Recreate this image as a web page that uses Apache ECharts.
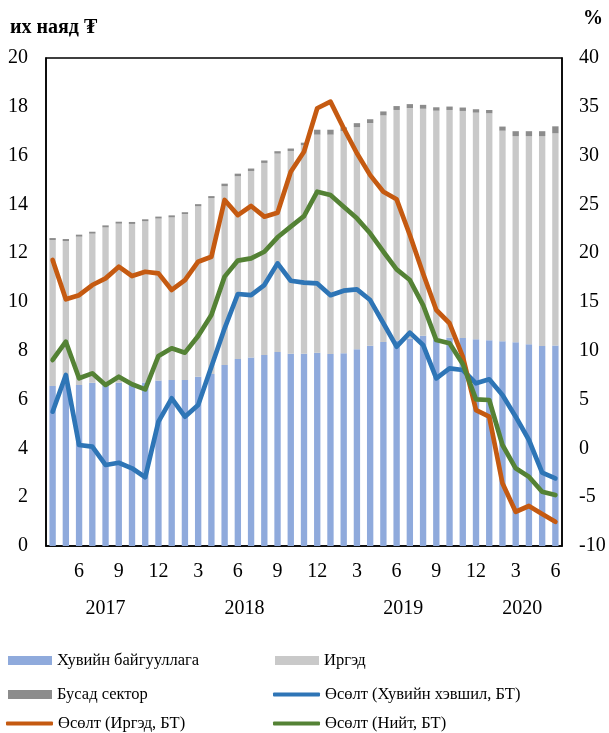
<!DOCTYPE html>
<html>
<head>
<meta charset="utf-8">
<script src="https://cdn.jsdelivr.net/npm/echarts@6/dist/echarts.min.js"></script>
<style>
  html, body { margin: 0; padding: 0; background: #fff; }
  #chart { width: 609px; height: 733px; }
</style>
</head>
<body>
<div id="chart"></div>
<script>
// сар бүр, 2017.04 - 2020.06
var months = [
  '2017-4', '2017-5', '2017-6', '2017-7', '2017-8', '2017-9', '2017-10', '2017-11', '2017-12',
  '2018-1', '2018-2', '2018-3', '2018-4', '2018-5', '2018-6', '2018-7', '2018-8', '2018-9',
  '2018-10', '2018-11', '2018-12',
  '2019-1', '2019-2', '2019-3', '2019-4', '2019-5', '2019-6', '2019-7', '2019-8', '2019-9',
  '2019-10', '2019-11', '2019-12',
  '2020-1', '2020-2', '2020-3', '2020-4', '2020-5', '2020-6'
];
var years = ['2017', '2018', '2019', '2020'];

// их наяд төгрөг
var privateLoans = [
  6.56, 6.6, 6.6, 6.69, 6.65, 6.69, 6.65, 6.7, 6.78, 6.8,
  6.8, 6.94, 7.05, 7.42, 7.66, 7.73, 7.83, 7.95, 7.88, 7.88,
  7.92, 7.87, 7.9, 8.06, 8.21, 8.36, 8.42, 8.5, 8.62, 8.45,
  8.55, 8.52, 8.47, 8.43, 8.39, 8.35, 8.27, 8.2, 8.22
];
var householdLoans = [
  5.98, 5.9, 6.08, 6.11, 6.41, 6.52, 6.55, 6.61, 6.64, 6.67,
  6.8, 6.99, 7.21, 7.33, 7.5, 7.64, 7.87, 8.13, 8.31, 8.55,
  8.94, 8.99, 9.1, 9.11, 9.12, 9.29, 9.45, 9.45, 9.3, 9.39,
  9.32, 9.31, 9.29, 9.3, 8.63, 8.45, 8.53, 8.6, 8.69
];
var otherLoans = [
  0.08, 0.08, 0.08, 0.08, 0.08, 0.08, 0.08, 0.08, 0.08, 0.08,
  0.08, 0.08, 0.08, 0.1, 0.1, 0.1, 0.1, 0.1, 0.1, 0.1,
  0.2, 0.2, 0.16, 0.16, 0.16, 0.16, 0.16, 0.16, 0.16, 0.14,
  0.14, 0.14, 0.14, 0.14, 0.17, 0.2, 0.2, 0.2, 0.29
];

// өсөлт, хувь
var growthPrivate = [
  3.76, 7.52, 0.35, 0.18, -1.7, -1.47, -2.04, -2.96, 2.74, 5.13,
  3.25, 4.45, 8.37, 12.3, 15.82, 15.7, 16.74, 18.96, 17.18, 16.98,
  16.9, 15.7, 16.16, 16.3, 15.2, 12.82, 10.42, 11.86, 10.6, 7.18,
  8.2, 8.03, 6.67, 7.08, 5.47, 3.25, 0.86, -2.49, -3.07
];
var growthHousehold = [
  19.3, 15.27, 15.7, 16.74, 17.42, 18.62, 17.66, 18.1, 17.93, 16.23,
  17.25, 19.13, 19.64, 25.45, 23.9, 24.84, 23.74, 24.15, 28.35, 30.4,
  34.85, 35.53, 32.8, 30.24, 28.0, 26.3, 25.52, 21.86, 17.93, 14.18,
  12.82, 9.4, 3.93, 3.25, -3.58, -6.49, -5.9, -6.72, -7.51
];
var growthTotal = [
  9.06, 10.93, 7.18, 7.69, 6.5, 7.35, 6.57, 6.05, 9.47, 10.26,
  9.81, 11.52, 13.67, 17.6, 19.24, 19.47, 20.15, 21.63, 22.72, 23.8,
  26.3, 25.96, 24.76, 23.57, 22.04, 20.15, 18.35, 17.25, 14.69, 11.1,
  10.77, 8.65, 5.03, 4.96, 0.35, -2.04, -2.9, -4.44, -4.78
];

var names = [
  'Хувийн байгууллага', 'Иргэд', 'Бусад сектор',
  'Өсөлт (Хувийн хэвшил, БТ)', 'Өсөлт (Иргэд, БТ)', 'Өсөлт (Нийт, БТ)'
];

var font = 'Liberation Serif, Times New Roman, serif';

var makeBar = function (name, data, color) {
  return {
    name: name,
    type: 'bar',
    stack: 'loans',
    barWidth: '48%',
    itemStyle: { color: color },
    data: data
  };
};

var makeLine = function (name, data, color) {
  return {
    name: name,
    type: 'line',
    yAxisIndex: 1,
    symbol: 'none',
    lineStyle: { color: color, width: 4.7, cap: 'round', join: 'round' },
    itemStyle: { color: color },
    data: data
  };
};

var makeLegend = function (name, left, top, isLine) {
  return {
    data: [{ name: name, icon: isLine ? 'roundRect' : 'rect' }],
    left: left,
    top: top,
    padding: 0,
    itemWidth: isLine ? 47 : 44,
    itemHeight: isLine ? 4 : 9,
    selectedMode: false,
    textStyle: { fontFamily: font, fontSize: 16.5, color: '#000' }
  };
};

var option = {
  animation: false,
  backgroundColor: '#fff',
  textStyle: { fontFamily: font },
  grid: {
    left: 46, right: 47, top: 58, bottom: 187,
    show: true, borderColor: '#000', borderWidth: 1.5
  },
  legend: [
    makeLegend(names[0], 8, 652, false),
    makeLegend(names[1], 275, 652, false),
    makeLegend(names[2], 8, 686, false),
    makeLegend(names[3], 273, 686, true),
    makeLegend(names[4], 6, 715, true),
    makeLegend(names[5], 273, 715, true)
  ],
  xAxis: {
    type: 'category',
    data: months,
    axisTick: { show: false },
    axisLine: { lineStyle: { color: '#000', width: 1.5 } },
    axisLabel: {
      interval: function (idx) { return idx % 3 === 2; },
      formatter: function (v) { return v.split('-')[1]; },
      margin: 16,
      fontFamily: font, fontSize: 20, color: '#000'
    }
  },
  yAxis: [
    {
      type: 'value', min: 0, max: 20, interval: 2,
      splitLine: { show: false },
      axisTick: { show: false },
      axisLine: { show: true, lineStyle: { color: '#000', width: 1.5 } },
      axisLabel: { margin: 18, fontFamily: font, fontSize: 20, color: '#000' }
    },
    {
      type: 'value', min: -10, max: 40, interval: 5,
      splitLine: { show: false },
      axisTick: { show: false },
      axisLine: { show: true, lineStyle: { color: '#000', width: 1.5 } },
      axisLabel: { margin: 17, fontFamily: font, fontSize: 20, color: '#000' }
    }
  ],
  series: [
    makeBar(names[0], privateLoans, '#8FAADC'),
    makeBar(names[1], householdLoans, '#C9C9C9'),
    makeBar(names[2], otherLoans, '#8C8C8C'),
    makeLine(names[3], growthPrivate, '#2E75B6'),
    makeLine(names[4], growthHousehold, '#C55A11'),
    makeLine(names[5], growthTotal, '#548235')
  ],
  graphic: [
    {
      type: 'text', left: 10, top: 18,
      style: { text: 'их наяд ₮', fontFamily: font, fontSize: 20, fontWeight: 'bold', fill: '#000' }
    },
    {
      type: 'text', left: 583, top: 9,
      style: { text: '%', fontFamily: font, fontSize: 20, fontWeight: 'bold', fill: '#000' }
    }
  ]
};

var myChart = echarts.init(document.getElementById('chart'), null, { renderer: 'canvas' });
myChart.setOption(option);

// жилийн шошго: тухайн жилийн саруудын голд
var yearLabels = years.map(function (y) {
  var idx = [];
  months.forEach(function (m, i) { if (m.indexOf(y) === 0) idx.push(i); });
  var x0 = myChart.convertToPixel({ xAxisIndex: 0 }, months[idx[0]]);
  var x1 = myChart.convertToPixel({ xAxisIndex: 0 }, months[idx[idx.length - 1]]);
  return {
    type: 'text',
    x: (x0 + x1) / 2,
    y: 609,
    style: {
      text: y, fontFamily: font, fontSize: 20, fill: '#000',
      align: 'center', verticalAlign: 'middle'
    }
  };
});
myChart.setOption({ graphic: option.graphic.concat(yearLabels) });
</script>
</body>
</html>
